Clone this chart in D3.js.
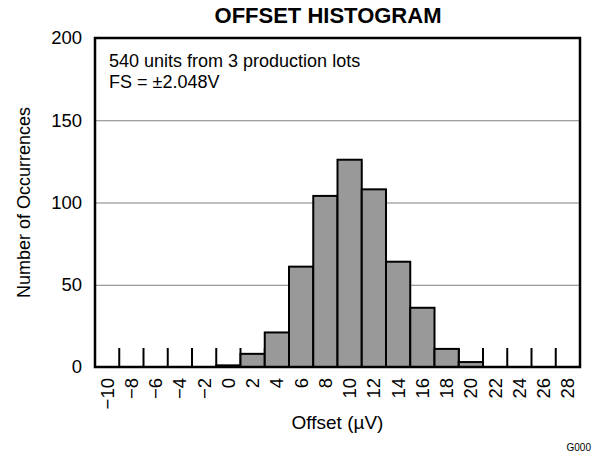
<!DOCTYPE html>
<html lang="en">
<head>
  <meta charset="UTF-8">
  <script src="https://d3js.org/d3.v7.min.js"></script>
  <title>Offset Histogram</title>
  <style>
    body { margin: 0; background: #fff; }
    svg text { font-family: "Liberation Sans", Arial, sans-serif; fill: #000; }
    .grid line { stroke: #808080; stroke-width: 1px; }
    .bars rect { fill: #999999; stroke: #000; stroke-width: 2px; }
    .ticks line { stroke: #000; stroke-width: 2px; }
  </style>
</head>
<body>
  <svg></svg>
  <script>
    const WIDTH = 611
    const HEIGHT = 455

    // bin labels (µV) and counts
    const binLabels = [-10, -8, -6, -4, -2, 0, 2, 4, 6, 8, 10, 12, 14, 16, 18, 20, 22, 24, 26, 28]
    const counts = [0, 0, 0, 0, 0, 1, 8, 21, 61, 104, 126, 108, 64, 36, 11, 3, 0, 0, 0, 0]
    const yTicks = [0, 50, 100, 150, 200]
    const notes = ['540 units from 3 production lots', 'FS = \u00b12.048V']

    const margin = { top: 38, right: 31, bottom: 88, left: 95 }
    const w = WIDTH - margin.left - margin.right
    const h = HEIGHT - margin.top - margin.bottom

    const svg = d3.select('svg')
      .attr('width', WIDTH)
      .attr('height', HEIGHT)

    const x = d3.scaleBand()
      .domain(binLabels)
      .range([margin.left, margin.left + w])
      .padding(0)

    const y = d3.scaleLinear()
      .domain([0, 200])
      .range([margin.top + h, margin.top])

    // horizontal gridlines
    svg.append('g')
      .attr('class', 'grid')
      .selectAll('line')
      .data(yTicks.filter((d) => d > 0 && d < 200))
      .enter().append('line')
      .attr('x1', margin.left)
      .attr('x2', margin.left + w)
      .attr('y1', (d) => y(d) + 0.5)
      .attr('y2', (d) => y(d) + 0.5)

    // short bin boundary ticks rising from the baseline
    svg.append('g')
      .attr('class', 'ticks')
      .selectAll('line')
      .data(binLabels.slice(1))
      .enter().append('line')
      .attr('x1', (d) => x(d))
      .attr('x2', (d) => x(d))
      .attr('y1', y(0))
      .attr('y2', y(0) - 19)

    // bars
    svg.append('g')
      .attr('class', 'bars')
      .selectAll('rect')
      .data(binLabels.map((b, i) => ({ bin: b, n: counts[i] })).filter((d) => d.n > 0))
      .enter().append('rect')
      .attr('x', (d) => x(d.bin))
      .attr('width', x.bandwidth())
      .attr('y', (d) => y(d.n))
      .attr('height', (d) => y(0) - y(d.n))

    // plot frame
    svg.append('rect')
      .attr('x', margin.left)
      .attr('y', margin.top)
      .attr('width', w)
      .attr('height', h)
      .attr('fill', 'none')
      .attr('stroke', '#000')
      .attr('stroke-width', 2.5)

    // y axis labels
    svg.append('g')
      .selectAll('text')
      .data(yTicks)
      .enter().append('text')
      .attr('x', margin.left - 13)
      .attr('y', (d) => y(d))
      .attr('dy', '0.35em')
      .attr('text-anchor', 'end')
      .style('font-size', '18.5px')
      .text((d) => d)

    // x labels, rotated
    svg.append('g')
      .selectAll('text')
      .data(binLabels)
      .enter().append('text')
      .attr('transform', (d) => `translate(${x(d) + x.bandwidth() / 2},${y(0) + 11}) rotate(-90)`)
      .attr('dy', '0.35em')
      .attr('text-anchor', 'end')
      .style('font-size', '18.5px')
      .text((d) => d < 0 ? '\u2212' + Math.abs(d) : d)

    svg.append('text')
      .attr('x', 328)
      .attr('y', 23)
      .attr('text-anchor', 'middle')
      .style('font-size', '22px')
      .style('font-weight', 'bold')
      .text('OFFSET HISTOGRAM')

    svg.append('text')
      .attr('transform', `translate(24,${margin.top + h / 2}) rotate(-90)`)
      .attr('dy', '0.35em')
      .attr('text-anchor', 'middle')
      .style('font-size', '18px')
      .text('Number of Occurrences')

    svg.append('text')
      .attr('x', margin.left + w / 2)
      .attr('y', 429)
      .attr('text-anchor', 'middle')
      .style('font-size', '19px')
      .text('Offset (\u00b5V)')

    svg.selectAll('.note')
      .data(notes)
      .enter().append('text')
      .attr('class', 'note')
      .attr('x', 109)
      .attr('y', (d, i) => 67 + i * 21)
      .style('font-size', '18px')
      .text((d) => d)

    svg.append('text')
      .attr('x', 591)
      .attr('y', 451)
      .attr('text-anchor', 'end')
      .style('font-size', '10px')
      .text('G000')
  </script>
</body>
</html>
